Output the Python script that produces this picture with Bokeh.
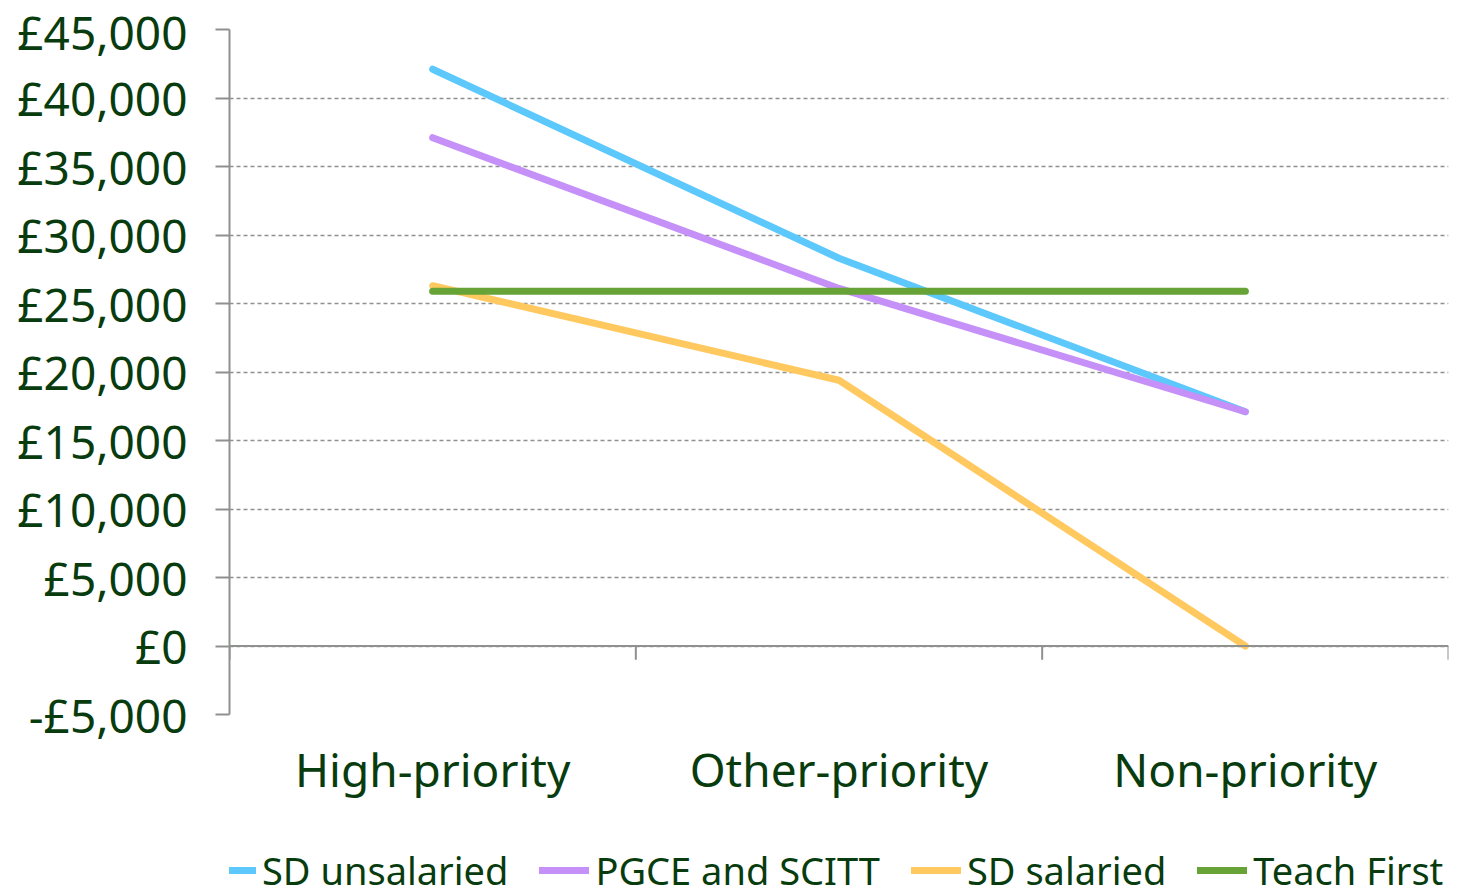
from bokeh.plotting import figure
from bokeh.layouts import column
from bokeh.models import (FactorRange, Range1d, Span, Legend, LegendItem,
                          FixedTicker, CustomJSTickFormatter)
from bokeh.embed import file_html
from bokeh.resources import INLINE

# Route categories and net cost per trainee
categories = ["High-priority", "Other-priority", "Non-priority"]
sd_unsalaried = [42100, 28300, 17100]
pgce_scitt = [37100, 26100, 17100]
sd_salaried = [26300, 19400, 0]
teach_first = [25900, 25900, 25900]

series = [
    ("SD unsalaried", sd_unsalaried, "#5CC8FB"),
    ("PGCE and SCITT", pgce_scitt, "#C590F8"),
    ("SD salaried", sd_salaried, "#FFC95F"),
    ("Teach First", teach_first, "#67A336"),
]

y_ticks = list(range(-5000, 45001, 5000))

FONT = "Noto Sans"
TEXT = "#083C0E"
AXIS = "#8E918E"
LEFT, RIGHT = 229, 14

p = figure(width=1462, height=836, output_backend="svg", toolbar_location=None,
           x_range=FactorRange(*categories, range_padding=0),
           y_range=Range1d(-5000, 45000),
           min_border_left=LEFT, min_border_right=RIGHT,
           min_border_top=29, min_border_bottom=122)
p.outline_line_color = None
p.background_fill_color = "white"
p.border_fill_color = "white"

# y axis
p.yaxis.ticker = FixedTicker(ticks=y_ticks)
p.yaxis.formatter = CustomJSTickFormatter(code="""
    const s = Math.abs(tick).toLocaleString('en-GB');
    return (tick < 0 ? '-£' : '£') + s;
""")
p.yaxis.axis_line_color = AXIS
p.yaxis.axis_line_width = 2
p.yaxis.major_tick_line_color = AXIS
p.yaxis.major_tick_line_width = 2
p.yaxis.major_tick_out = 14
p.yaxis.major_tick_in = 0
p.yaxis.minor_tick_line_color = None
p.yaxis.major_label_text_font = FONT
p.yaxis.major_label_text_font_size = "46px"
p.yaxis.major_label_text_color = TEXT
p.yaxis.major_label_standoff = 28

# x axis: labels only; the axis line sits at zero
p.xaxis.axis_line_color = None
p.xaxis.major_tick_line_color = None
p.xaxis.minor_tick_line_color = None
p.xaxis.major_label_text_font = FONT
p.xaxis.major_label_text_font_size = "46px"
p.xaxis.major_label_text_color = TEXT
p.xaxis.major_label_standoff = 17

p.xgrid.grid_line_color = None
p.ygrid.ticker = FixedTicker(ticks=y_ticks)
p.ygrid.grid_line_color = AXIS
p.ygrid.grid_line_width = 1.5
p.ygrid.grid_line_dash = "4 3"

# zero line with category boundary ticks
p.add_layout(Span(location=0, dimension="width", line_color=AXIS, line_width=2))
bounds = [(c, -0.5) for c in categories] + [(categories[-1], 0.5)]
p.segment(x0=bounds, x1=bounds, y0=[0] * len(bounds), y1=[-1000] * len(bounds),
          line_color=AXIS, line_width=2)

# legend strip below the chart
leg = figure(width=1462, height=60, output_backend="svg", toolbar_location=None,
             x_axis_type=None, y_axis_type=None,
             x_range=Range1d(0, 1), y_range=Range1d(0, 1),
             min_border_left=LEFT, min_border_right=RIGHT,
             min_border_top=0, min_border_bottom=0)
leg.grid.visible = False
leg.outline_line_color = None
leg.border_fill_color = "white"

nan = float("nan")
items = []
for name, vals, color in series:
    p.line(categories, vals, line_color=color, line_width=7,
           line_cap="round", line_join="round")
    # placeholder renderer used only for the legend swatch
    r = leg.line([nan], [nan], line_color=color, line_width=7, line_cap="round")
    items.append(LegendItem(label=name, renderers=[r]))

legend = Legend(items=items, orientation="horizontal", location=(-23, 0),
                glyph_width=50, glyph_height=36, label_standoff=6, spacing=31,
                padding=0, margin=0, border_line_color=None,
                background_fill_alpha=0,
                label_text_font=FONT, label_text_font_size="38px",
                label_text_color=TEXT, label_height=36)
leg.add_layout(legend, "center")

open("out.html", "w").write(file_html(column(p, leg, spacing=0), INLINE))
